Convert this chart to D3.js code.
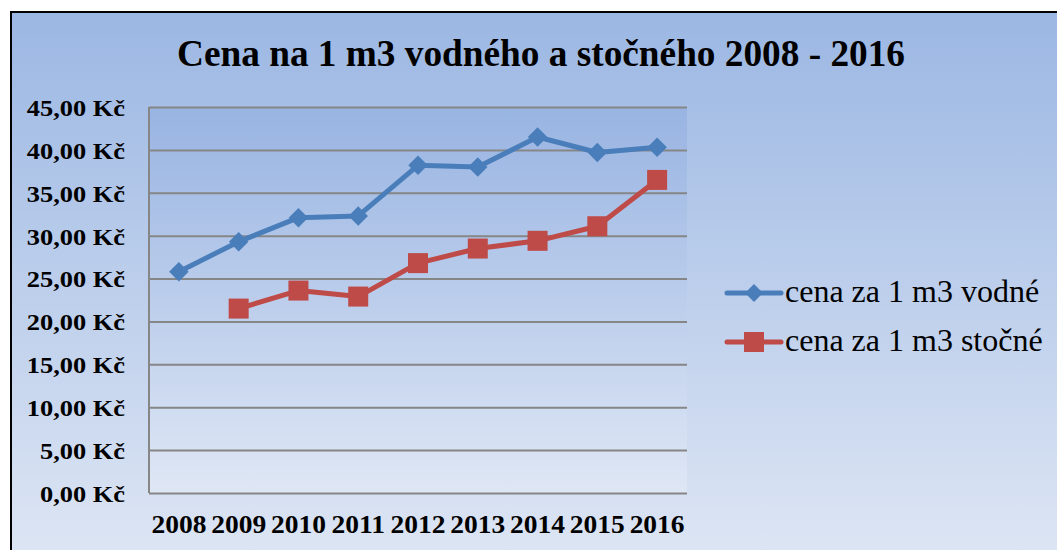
<!DOCTYPE html>
<meta charset="utf-8" />
<style>
  body { margin: 0; background: #fff; }
  svg text { font-family: "Liberation Serif", "Times New Roman", serif; fill: #000; }
  .grid line { stroke: #868686; stroke-width: 2; }
  .grid path { display: none; }
  .axis path, .axis line { display: none; }
  .axis text { font-weight: bold; }
</style>
<svg width="1057" height="550"></svg>
<script src="https://cdn.jsdelivr.net/npm/d3@7"></script>
<script>
  var years = ["2008", "2009", "2010", "2011", "2012", "2013", "2014", "2015", "2016"];
  var vodne = [25.8, 29.3, 32.1, 32.3, 38.2, 38.0, 41.5, 39.7, 40.3];
  var stocne = [null, 21.5, 23.6, 22.9, 26.8, 28.5, 29.4, 31.1, 36.5];
  var seriesNames = ["cena za 1 m3 vodné", "cena za 1 m3 stočné"];
  var colors = ["#4a7ebb", "#be4b48"];
  var yTicks = [0, 5, 10, 15, 20, 25, 30, 35, 40, 45];

  var svg = d3.select("svg");
  var defs = svg.append("defs");

  var bg = defs.append("linearGradient").attr("id", "bg")
    .attr("x1", 0).attr("y1", 0).attr("x2", 0).attr("y2", 1);
  bg.append("stop").attr("offset", "0%").attr("stop-color", "#9bb7e3");
  bg.append("stop").attr("offset", "100%").attr("stop-color", "#dee6f4");

  var pbg = defs.append("linearGradient").attr("id", "pbg")
    .attr("x1", 0).attr("y1", 0).attr("x2", 0).attr("y2", 1);
  pbg.append("stop").attr("offset", "0%").attr("stop-color", "#98b4e2");
  pbg.append("stop").attr("offset", "100%").attr("stop-color", "#dfe7f5");

  // outer chart area
  svg.append("rect")
    .attr("x", 11).attr("y", 12)
    .attr("width", 1060).attr("height", 550)
    .attr("fill", "url(#bg)")
    .attr("stroke", "#000").attr("stroke-width", 2);

  var margin = { left: 149, top: 107, right: 687, bottom: 493 };

  var x = d3.scaleBand().domain(years).range([margin.left, margin.right]);
  var y = d3.scaleLinear().domain([0, 45]).range([margin.bottom, margin.top]);

  svg.append("rect")
    .attr("x", margin.left).attr("y", margin.top)
    .attr("width", margin.right - margin.left)
    .attr("height", margin.bottom - margin.top)
    .attr("fill", "url(#pbg)");

  svg.append("text")
    .attr("x", 541).attr("y", 66)
    .attr("text-anchor", "middle")
    .attr("textLength", 728).attr("lengthAdjust", "spacingAndGlyphs")
    .style("font-size", "38px").style("font-weight", "bold")
    .text("Cena na 1 m3 vodného a stočného 2008 - 2016");

  svg.append("g").attr("class", "grid")
    .attr("transform", "translate(" + margin.left + ",0)")
    .call(d3.axisLeft(y).tickValues(yTicks).tickSize(-(margin.right - margin.left)).tickFormat(""));

  // vertical axis line
  svg.append("line")
    .attr("x1", margin.left).attr("x2", margin.left)
    .attr("y1", margin.top).attr("y2", margin.bottom)
    .attr("stroke", "#868686").attr("stroke-width", 2);

  var fmt = function(d) { return d3.format(".2f")(d).replace(".", ",") + " Kč"; };

  svg.append("g").attr("class", "axis")
    .attr("transform", "translate(" + (margin.left - 24) + ",0)")
    .call(d3.axisLeft(y).tickValues(yTicks).tickSize(0).tickPadding(0).tickFormat(fmt))
    .selectAll("text")
    .style("font-size", "24px")
    .attr("x", 0).attr("dy", "0.35em")
    .attr("transform", "scale(1.1,1)");

  svg.append("g").attr("class", "axis")
    .attr("transform", "translate(0," + (margin.bottom + 24) + ")")
    .call(d3.axisBottom(x).tickSize(0).tickPadding(0))
    .selectAll("text")
    .style("font-size", "25px")
    .attr("y", 0).attr("dy", "0.65em")
    .attr("transform", "scale(1.1,1)");

  var cx = function(i) { return x(years[i]) + x.bandwidth() / 2; };

  var line = d3.line()
    .defined(function(d) { return d != null; })
    .x(function(d, i) { return cx(i); })
    .y(function(d) { return y(d); });

  [vodne, stocne].forEach(function(s, k) {
    svg.append("path")
      .attr("d", line(s))
      .attr("fill", "none")
      .attr("stroke", colors[k])
      .attr("stroke-width", 5)
      .attr("stroke-linejoin", "round");
  });

  var diamond = d3.symbol().type(d3.symbolSquare).size(190);
  svg.append("g").selectAll("path")
    .data(vodne).enter().append("path")
    .attr("d", diamond())
    .attr("transform", function(d, i) { return "translate(" + cx(i) + "," + y(d) + ") rotate(45)"; })
    .attr("fill", colors[0]);

  svg.append("g").selectAll("rect")
    .data(stocne.map(function(d, i) { return { v: d, i: i }; }).filter(function(d) { return d.v != null; }))
    .enter().append("rect")
    .attr("x", function(d) { return cx(d.i) - 10; })
    .attr("y", function(d) { return y(d.v) - 10; })
    .attr("width", 20).attr("height", 20)
    .attr("fill", colors[1]);

  // legend
  var legend = svg.append("g");
  seriesNames.forEach(function(name, k) {
    var ly = 293 + k * 49;
    legend.append("line")
      .attr("x1", 727).attr("x2", 781).attr("y1", ly).attr("y2", ly)
      .attr("stroke", colors[k]).attr("stroke-width", 5).attr("stroke-linecap", "round");
    if (k === 0) {
      legend.append("path")
        .attr("d", d3.symbol().type(d3.symbolSquare).size(160)())
        .attr("transform", "translate(754," + ly + ") rotate(45)")
        .attr("fill", colors[k]);
    } else {
      legend.append("rect")
        .attr("x", 744).attr("y", ly - 10).attr("width", 20).attr("height", 20)
        .attr("fill", colors[k]);
    }
    legend.append("text")
      .attr("x", 785).attr("y", ly + 9)
      .style("font-size", "32px")
      .text(name);
  });
</script>
